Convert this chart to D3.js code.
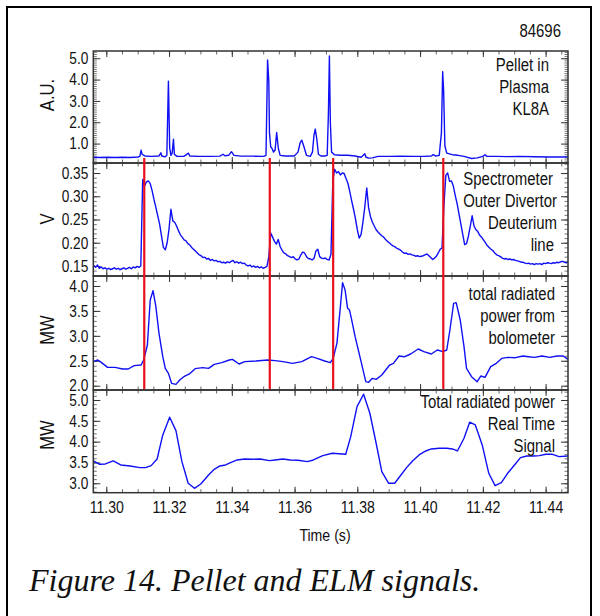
<!DOCTYPE html>
<html>
<head>
<meta charset="utf-8">
<script src="https://cdn.jsdelivr.net/npm/d3@7"></script>
<style>
  body { margin: 0; background: #fff; }
  svg text { font-family: "Liberation Sans", Arial, Helvetica, sans-serif; fill: #111; }
  svg text.caption { font-family: "Liberation Serif", "Times New Roman", serif; font-style: italic; }
</style>
</head>
<body>
<svg id="fig" width="600" height="616"></svg>
<script>
// ---- data -------------------------------------------------------------
const shotNumber = "84696";
const captionText = "Figure 14. Pellet and ELM signals.";
const timeLabel = "Time (s)";
const timeTicks = [11.30, 11.32, 11.34, 11.36, 11.38, 11.40, 11.42, 11.44];

// pellet times marked across the spectrometer and bolometer traces (s)
const pelletTimes = [11.3121, 11.3521, 11.3723, 11.4074];

// KL8A pellet camera signal: [time (s), A.U.]
const pelletSignal = [
  [11.2959,0.36],[11.2979,0.35],[11.3004,0.36],[11.3028,0.35],[11.3052,0.36],[11.3076,0.35],
  [11.3101,0.37],[11.3107,0.40],[11.3111,0.69],[11.3114,0.50],[11.3123,0.42],[11.3143,0.40],
  [11.3168,0.42],[11.3174,0.57],[11.3177,0.42],[11.3188,0.38],[11.3193,0.45],[11.3198,3.93],
  [11.3202,0.80],[11.3206,0.45],[11.3210,0.55],[11.3214,1.20],[11.3217,0.50],[11.3225,0.40],
  [11.3247,0.40],[11.3262,0.55],[11.3266,0.42],[11.3295,0.40],[11.3332,0.40],[11.3362,0.41],
  [11.3372,0.50],[11.3378,0.43],[11.3390,0.45],[11.3399,0.62],[11.3407,0.45],[11.3429,0.41],
  [11.3465,0.41],[11.3502,0.40],[11.3509,0.45],[11.3514,4.92],[11.3518,3.90],[11.3520,1.50],
  [11.3524,0.85],[11.3529,0.75],[11.3533,0.60],[11.3538,0.70],[11.3543,1.52],[11.3548,0.80],
  [11.3554,0.45],[11.3569,0.42],[11.3599,0.42],[11.3611,0.60],[11.3618,1.05],[11.3623,1.16],
  [11.3629,0.90],[11.3638,0.45],[11.3650,0.40],[11.3657,0.60],[11.3662,1.40],[11.3666,1.68],
  [11.3671,1.20],[11.3676,0.50],[11.3684,0.42],[11.3696,0.42],[11.3704,0.45],[11.3708,2.50],
  [11.3711,5.11],[11.3714,2.00],[11.3718,0.60],[11.3727,0.48],[11.3745,0.45],[11.3769,0.45],
  [11.3793,0.42],[11.3812,0.36],[11.3824,0.52],[11.3827,0.37],[11.3836,0.32],[11.3848,0.33],
  [11.3866,0.40],[11.3903,0.40],[11.3939,0.41],[11.3976,0.40],[11.4012,0.40],[11.4036,0.42],
  [11.4042,0.48],[11.4049,0.42],[11.4061,0.45],[11.4068,1.50],[11.4072,4.37],[11.4075,3.50],
  [11.4079,0.90],[11.4085,0.55],[11.4103,0.48],[11.4121,0.45],[11.4140,0.40],[11.4164,0.30],
  [11.4182,0.33],[11.4200,0.40],[11.4207,0.48],[11.4213,0.40],[11.4243,0.40],[11.4279,0.39],
  [11.4316,0.40],[11.4364,0.38],[11.4413,0.37],[11.4471,0.37]
];

// outer divertor deuterium line, sampled every 0.6 ms from 11.2960 s (V)
const deuteriumStart = 11.2960;
const deuteriumStep = 0.0006;
const deuteriumValues = [
  0.151,0.147,0.152,0.145,0.148,0.144,0.146,0.143,0.145,0.142,0.144,0.146,0.143,0.145,0.142,0.144,0.146,0.143,0.145,0.147,0.144,0.148,0.146,0.149,0.147,
  0.150,0.336,0.322,0.331,0.333,0.327,0.312,0.293,0.276,0.258,0.240,0.214,0.190,0.185,0.200,0.230,0.272,0.247,0.244,0.236,0.226,0.217,0.212,0.206,0.204,
  0.198,0.195,0.190,0.186,0.182,0.178,0.174,0.172,0.168,0.169,0.165,0.166,0.162,0.164,0.161,0.162,0.159,0.160,0.157,0.158,0.156,0.159,0.157,0.160,0.162,
  0.157,0.159,0.156,0.158,0.155,0.156,0.152,0.150,0.152,0.148,0.150,0.147,0.149,0.146,0.148,0.145,0.147,0.149,0.170,0.221,0.212,0.203,0.197,0.207,0.192,
  0.184,0.178,0.176,0.172,0.170,0.168,0.170,0.165,0.163,0.165,0.174,0.180,0.178,0.170,0.166,0.165,0.163,0.166,0.182,0.186,0.170,0.167,0.166,0.167,0.164,
  0.163,0.175,0.335,0.358,0.350,0.353,0.346,0.350,0.349,0.338,0.328,0.310,0.290,0.272,0.252,0.228,0.210,0.218,0.245,0.278,0.318,0.275,0.256,0.244,0.236,
  0.228,0.223,0.219,0.215,0.212,0.207,0.203,0.200,0.196,0.193,0.191,0.188,0.186,0.184,0.180,0.177,0.178,0.175,0.176,0.174,0.173,0.171,0.172,0.170,0.171,
  0.172,0.174,0.176,0.172,0.168,0.164,0.167,0.171,0.178,0.186,0.189,0.280,0.345,0.350,0.332,0.333,0.322,0.302,0.284,0.262,0.240,0.218,0.196,0.198,0.214,
  0.236,0.258,0.236,0.228,0.224,0.216,0.212,0.206,0.200,0.194,0.190,0.186,0.183,0.178,0.174,0.172,0.170,0.167,0.165,0.166,0.164,0.165,0.163,0.164,0.162,
  0.161,0.160,0.158,0.158,0.156,0.155,0.156,0.154,0.155,0.153,0.155,0.154,0.155,0.153,0.156,0.155,0.157,0.156,0.155,0.157,0.156,0.158,0.157,0.159,0.160,
  0.158,0.157,0.158
];

// total radiated power from bolometer: [time (s), MW]
const bolometerPower = [
  [11.2959,2.482],[11.2973,2.516],[11.2985,2.462],[11.3004,2.368],[11.3028,2.368],[11.3052,2.335],
  [11.3070,2.335],[11.3089,2.402],[11.3111,2.415],[11.3119,2.516],[11.3131,2.816],[11.3140,3.719],
  [11.3149,3.906],[11.3158,3.585],[11.3168,3.051],[11.3180,2.582],[11.3188,2.348],[11.3198,2.248],
  [11.3208,2.048],[11.3222,2.027],[11.3234,2.114],[11.3247,2.181],[11.3265,2.235],[11.3283,2.342],
  [11.3307,2.362],[11.3326,2.348],[11.3344,2.429],[11.3368,2.462],[11.3392,2.516],[11.3402,2.529],
  [11.3423,2.435],[11.3441,2.482],[11.3477,2.495],[11.3514,2.516],[11.3538,2.502],[11.3563,2.482],
  [11.3593,2.449],[11.3623,2.482],[11.3654,2.582],[11.3672,2.549],[11.3696,2.495],[11.3714,2.462],
  [11.3723,2.549],[11.3735,2.850],[11.3745,3.519],[11.3753,4.067],[11.3761,3.920],[11.3769,3.552],
  [11.3775,3.519],[11.3781,3.351],[11.3793,2.984],[11.3812,2.482],[11.3827,2.081],[11.3836,2.068],
  [11.3848,2.148],[11.3860,2.128],[11.3878,2.215],[11.3903,2.415],[11.3915,2.449],[11.3933,2.596],
  [11.3951,2.582],[11.3970,2.636],[11.3994,2.736],[11.4012,2.683],[11.4036,2.636],[11.4055,2.716],
  [11.4073,2.683],[11.4085,2.716],[11.4095,3.117],[11.4107,3.652],[11.4115,3.666],[11.4128,3.318],
  [11.4140,2.783],[11.4148,2.348],[11.4164,2.181],[11.4182,2.081],[11.4194,2.195],[11.4207,2.168],
  [11.4225,2.382],[11.4243,2.449],[11.4261,2.549],[11.4279,2.569],[11.4304,2.562],[11.4328,2.596],
  [11.4346,2.582],[11.4364,2.569],[11.4389,2.596],[11.4413,2.569],[11.4437,2.596],[11.4456,2.596],
  [11.4471,2.529]
];

// total radiated power, real-time signal: [time (s), MW]
const realTimePower = [
  [11.2959,3.536],[11.2979,3.456],[11.2997,3.464],[11.3022,3.536],[11.3046,3.440],[11.3076,3.416],
  [11.3107,3.376],[11.3125,3.376],[11.3143,3.424],[11.3162,3.584],[11.3180,4.161],[11.3202,4.586],
  [11.3222,4.265],[11.3241,3.520],[11.3261,3.000],[11.3281,2.879],[11.3301,2.983],[11.3326,3.200],
  [11.3344,3.336],[11.3362,3.416],[11.3380,3.440],[11.3398,3.504],[11.3417,3.560],[11.3441,3.584],
  [11.3465,3.576],[11.3490,3.584],[11.3520,3.544],[11.3538,3.560],[11.3562,3.584],[11.3587,3.560],
  [11.3611,3.552],[11.3641,3.520],[11.3660,3.560],[11.3690,3.664],[11.3720,3.720],[11.3763,3.696],
  [11.3779,4.121],[11.3799,4.842],[11.3820,5.139],[11.3840,4.682],[11.3860,3.961],[11.3878,3.280],
  [11.3900,3.000],[11.3919,3.000],[11.3939,3.200],[11.3957,3.376],[11.3976,3.536],[11.3997,3.680],
  [11.4018,3.776],[11.4036,3.825],[11.4061,3.841],[11.4085,3.841],[11.4103,3.825],[11.4119,3.776],
  [11.4140,4.081],[11.4158,4.466],[11.4176,4.401],[11.4198,3.921],[11.4219,3.240],[11.4239,2.943],
  [11.4259,3.015],[11.4279,3.240],[11.4301,3.440],[11.4320,3.616],[11.4340,3.656],[11.4362,3.656],
  [11.4380,3.664],[11.4401,3.696],[11.4422,3.696],[11.4443,3.640],[11.4471,3.656]
];

const pelletTicks = [1.0, 2.0, 3.0, 4.0, 5.0];
const deuteriumTicks = [0.15, 0.20, 0.25, 0.30, 0.35];
const bolometerTicks = [2.0, 2.5, 3.0, 3.5, 4.0];
const realTimeTicks = [3.0, 3.5, 4.0, 4.5, 5.0];

const pelletLabel = ["Pellet in", "Plasma", "KL8A"];
const deuteriumLabel = ["Spectrometer", "Outer Divertor", "Deuterium", "line"];
const bolometerLabel = ["total radiated", "power from", "bolometer"];
const realTimeLabel = ["Total radiated power", "Real Time", "Signal"];

// ---- layout -----------------------------------------------------------
const plotLeft = 93.3, plotRight = 568;
const narrow = 0.83;   // condensed lettering, as in the plotting package's output
const svg = d3.select("#fig");

svg.append("rect").attr("width", 600).attr("height", 616).attr("fill", "#fff");
// figure border (bottom edge runs off the page)
svg.append("rect").attr("x", 7).attr("y", 7).attr("width", 584).attr("height", 620)
  .attr("fill", "none").attr("stroke", "#000").attr("stroke-width", 2);

const x = d3.scaleLinear().domain([11.29586, 11.44714]).range([plotLeft, plotRight]);

const deuteriumSignal = deuteriumValues.map((v, i) => [deuteriumStart + i * deuteriumStep, v]);

const panels = [
  { data: pelletSignal, domain: [0.09, 5.34], top: 51, bottom: 163, ticks: pelletTicks, minor: 0.1, fmt: ".1f",
    title: "A.U.", titleY: 95, label: pelletLabel, labelEnd: [549, 549, 549], labelTop: 71 },
  { data: deuteriumSignal, domain: [0.1284, 0.3716], top: 163, bottom: 276, ticks: deuteriumTicks, minor: 0.01, fmt: ".2f",
    title: "V", titleY: 219, label: deuteriumLabel, labelEnd: [553, 557, 557, 554], labelTop: 185 },
  { data: bolometerPower, domain: [1.914, 4.20], top: 276, bottom: 390, ticks: bolometerTicks, minor: 0.1, fmt: ".1f",
    title: "MW", titleY: 330, label: bolometerLabel, labelEnd: [555, 555, 555], labelTop: 300 },
  { data: realTimePower, domain: [2.774, 5.24], top: 390, bottom: 492.7, ticks: realTimeTicks, minor: 0.1, fmt: ".1f",
    title: "MW", titleY: 435, label: realTimeLabel, labelEnd: [555, 555, 555], labelTop: 408 }
];

const xMinor = d3.range(11.295, 11.4475, 0.005).filter(t => t >= x.domain()[0] && t <= x.domain()[1]);
const lineGap = 22;

function styleAxis(g, color) {
  g.select(".domain").remove();
  g.selectAll(".tick line").attr("stroke", color).attr("stroke-width", 1);
  g.attr("font-family", null).attr("font-size", null);
}

panels.forEach((p, k) => {
  const y = d3.scaleLinear().domain(p.domain).range([p.bottom, p.top]);
  const clipId = "clip" + k;
  svg.append("clipPath").attr("id", clipId).append("rect")
    .attr("x", plotLeft).attr("y", p.top).attr("width", plotRight - plotLeft).attr("height", p.bottom - p.top);

  const minorY = d3.range(Math.ceil(p.domain[0] / p.minor) * p.minor, p.domain[1], p.minor);

  // y ticks, left and right
  const gL = svg.append("g").attr("transform", `translate(${plotLeft},0)`)
    .call(d3.axisLeft(y).tickValues(minorY).tickSize(-3.5).tickFormat(""));
  styleAxis(gL, "#777");
  const gR = svg.append("g").attr("transform", `translate(${plotRight},0)`)
    .call(d3.axisRight(y).tickValues(minorY).tickSize(-3.5).tickFormat(""));
  styleAxis(gR, "#777");

  const gLM = svg.append("g").attr("transform", `translate(${plotLeft},0)`)
    .call(d3.axisLeft(y).tickValues(p.ticks).tickSize(-7).tickPadding(5).tickFormat(d3.format(p.fmt)));
  styleAxis(gLM, "#333");
  gLM.selectAll(".tick text").attr("font-size", 16.5).attr("fill", "#111");
  const gRM = svg.append("g").attr("transform", `translate(${plotRight},0)`)
    .call(d3.axisRight(y).tickValues(p.ticks).tickSize(-7).tickFormat(""));
  styleAxis(gRM, "#333");

  // time ticks along top and bottom edges of each panel
  [[p.top, d3.axisTop], [p.bottom, d3.axisBottom]].forEach(([yy, ax]) => {
    const gm = svg.append("g").attr("transform", `translate(0,${yy})`)
      .call(ax(x).tickValues(xMinor).tickSize(-3.5).tickFormat(""));
    styleAxis(gm, "#666");
    const gM = svg.append("g").attr("transform", `translate(0,${yy})`)
      .call(ax(x).tickValues(timeTicks).tickSize(-6).tickFormat(""));
    styleAxis(gM, "#333");
  });

  // trace
  svg.append("path").datum(p.data)
    .attr("clip-path", `url(#${clipId})`)
    .attr("fill", "none").attr("stroke", "#1010f4").attr("stroke-width", 1.4)
    .attr("stroke-linejoin", "round")
    .attr("d", d3.line().x(d => x(d[0])).y(d => y(d[1])));

  // panel frame
  svg.append("rect").attr("x", plotLeft).attr("y", p.top)
    .attr("width", plotRight - plotLeft).attr("height", p.bottom - p.top)
    .attr("fill", "none").attr("stroke", "#333").attr("stroke-width", 1.5);

  // y title
  svg.append("text").attr("transform", `translate(54,${p.titleY}) rotate(-90)`)
    .attr("text-anchor", "middle").attr("font-size", 20).text(p.title);

  // panel description
  svg.append("g").selectAll("text").data(p.label).join("text")
    .attr("x", (d, i) => p.labelEnd[i]).attr("y", (d, i) => p.labelTop + i * lineGap)
    .attr("text-anchor", "end").attr("font-size", 18).text(d => d);
});

// time axis labels under the last panel
const last = panels[panels.length - 1];
const gX = svg.append("g").attr("transform", `translate(0,${last.bottom})`)
  .call(d3.axisBottom(x).tickValues(timeTicks).tickSize(0).tickPadding(8.3).tickFormat(d3.format(".2f")));
gX.select(".domain").remove();
gX.attr("font-family", null).attr("font-size", null);
gX.selectAll(".tick text").attr("font-size", 17).attr("fill", "#111");

svg.append("text").attr("x", 325).attr("y", 541).attr("text-anchor", "middle")
  .attr("font-size", 17).text(timeLabel);

// pellet markers
const topY = panels[1].top - 5, bottomY = panels[2].bottom - 1;
svg.append("g").selectAll("line").data(pelletTimes).join("line")
  .attr("x1", d => x(d)).attr("x2", d => x(d))
  .attr("y1", topY).attr("y2", bottomY)
  .attr("stroke", "#e8101a").attr("stroke-width", 2.2);

svg.append("text").attr("x", 561).attr("y", 37).attr("text-anchor", "end")
  .attr("font-size", 18).text(shotNumber);

svg.append("text").attr("class", "caption").attr("x", 29).attr("y", 591)
  .attr("font-size", 32).text(captionText);

// condense the sans-serif lettering
svg.selectAll("text:not(.caption)").each(function () {
  const w = this.getComputedTextLength();
  if (w > 0) {
    this.setAttribute("textLength", (w * narrow).toFixed(2));
    this.setAttribute("lengthAdjust", "spacingAndGlyphs");
  }
});
</script>
</body>
</html>
